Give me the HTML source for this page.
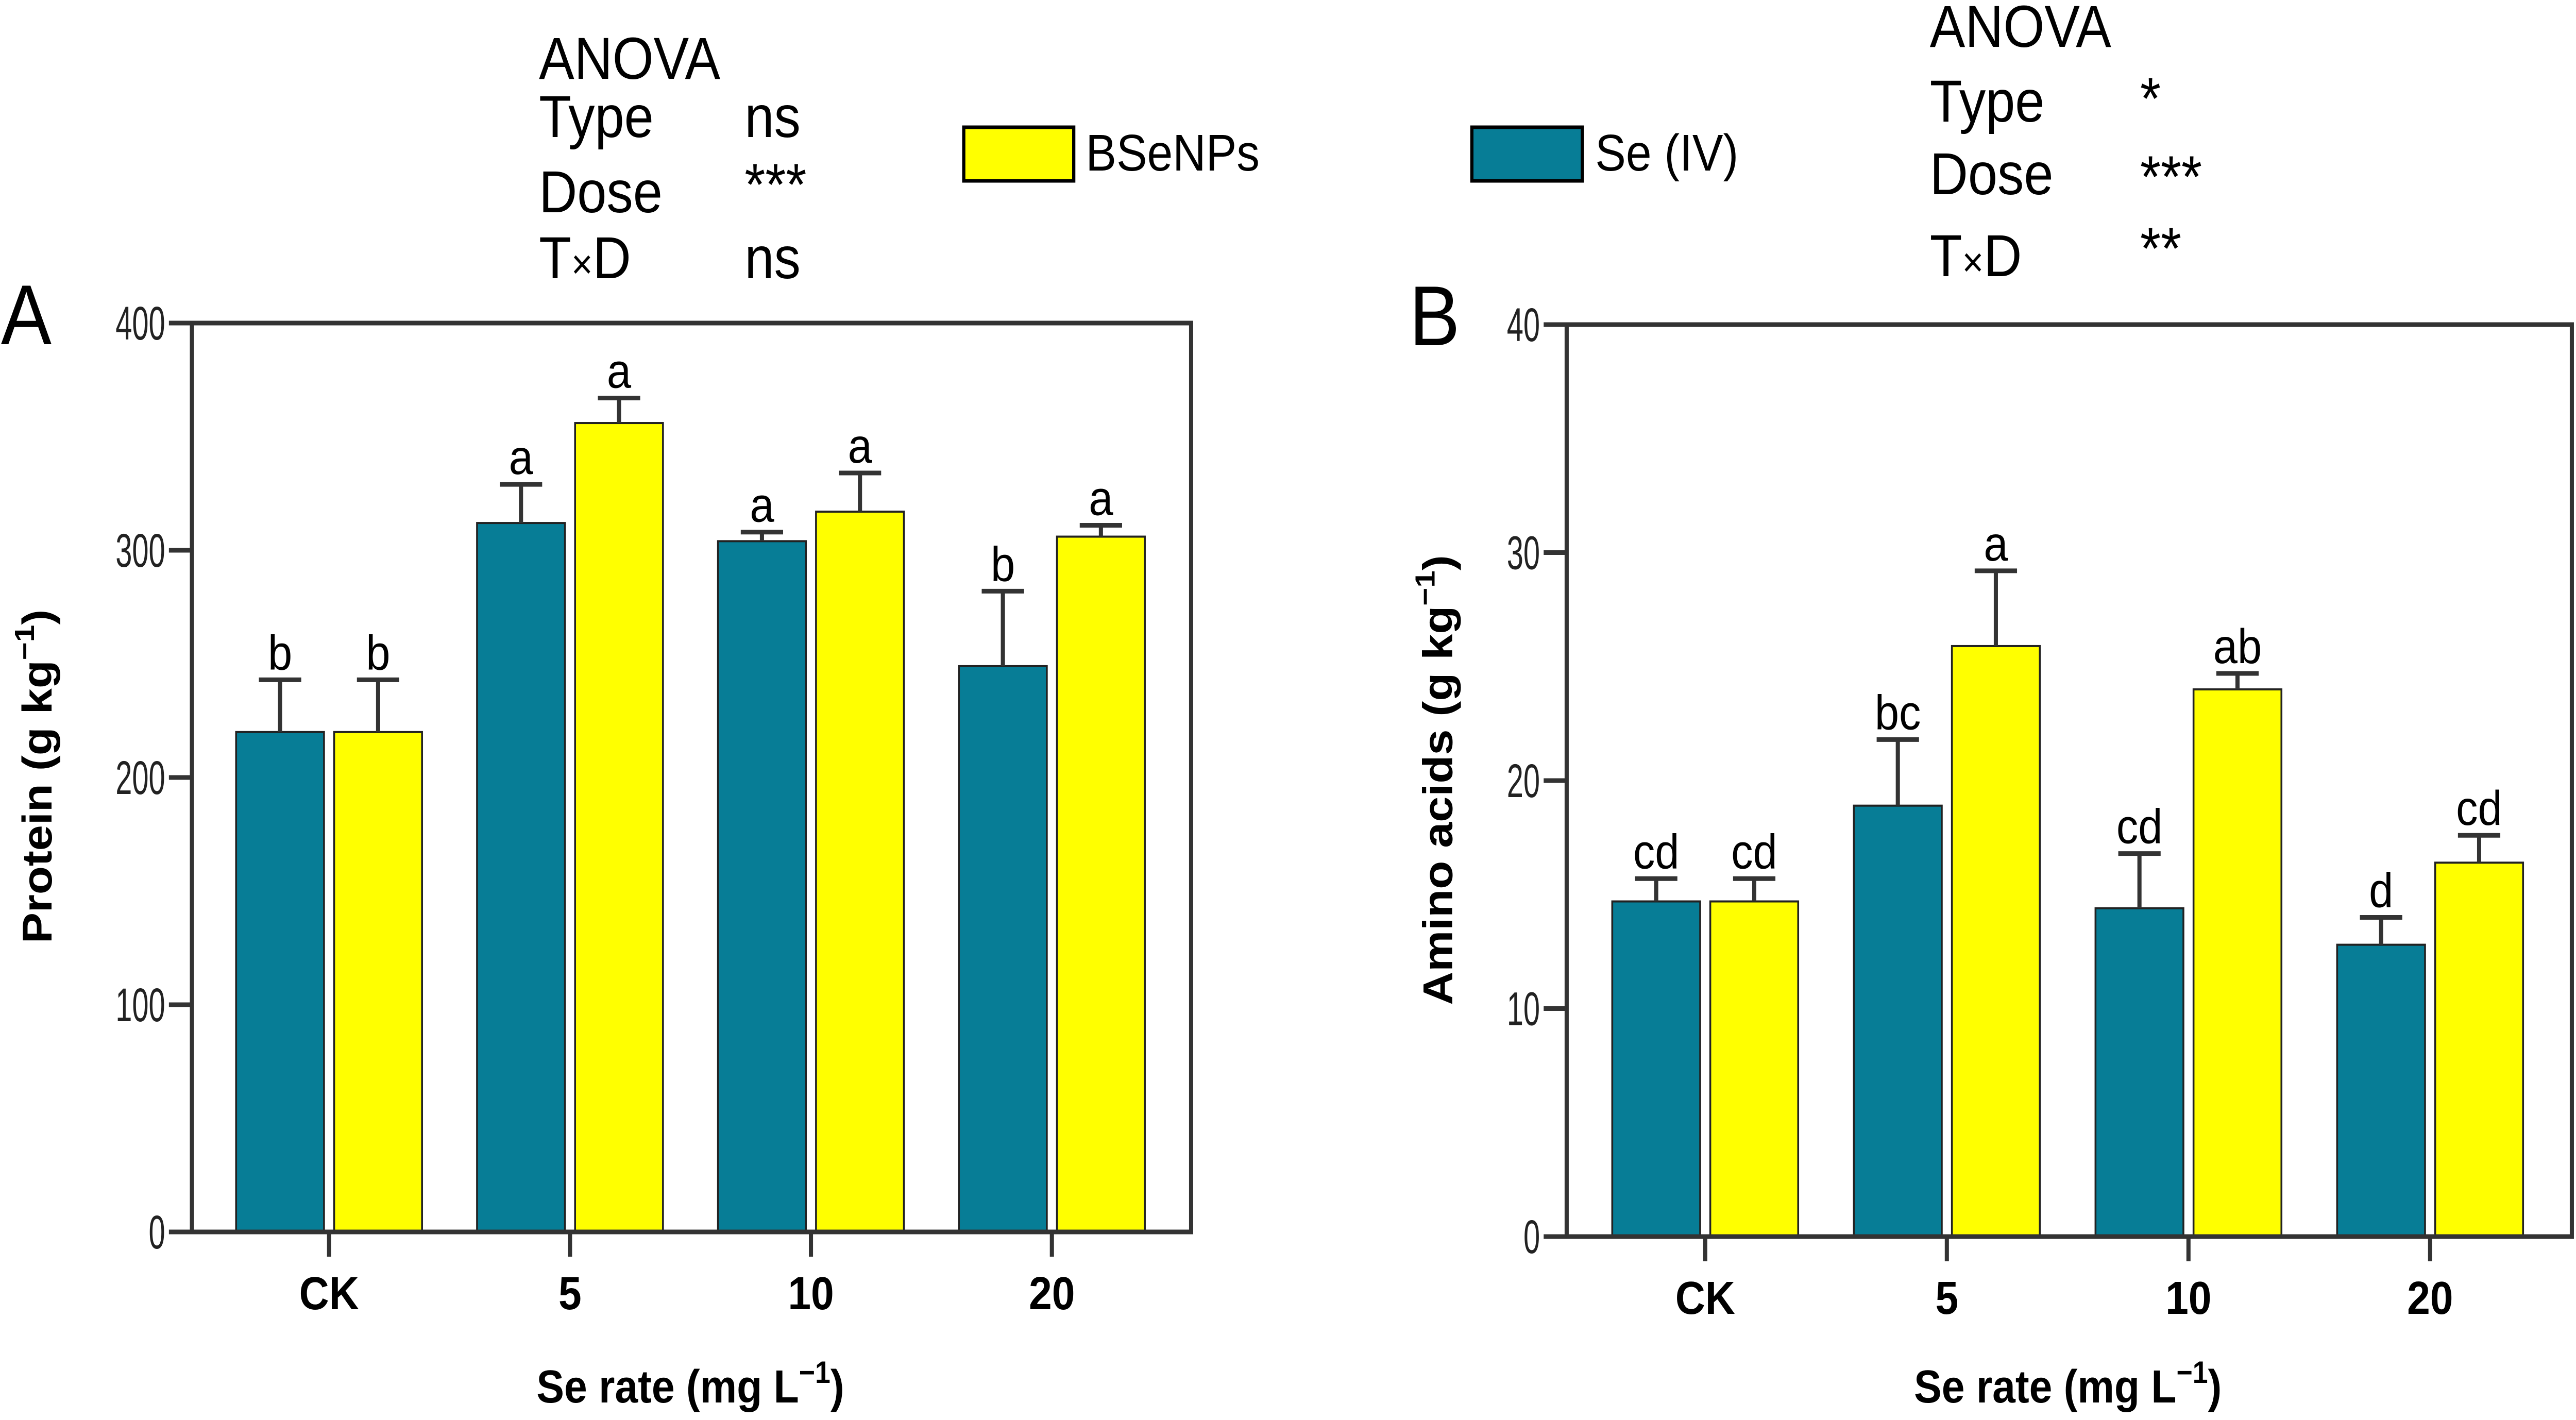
<!DOCTYPE html>
<html><head><meta charset="utf-8"><style>
html,body{margin:0;padding:0;background:#fff;width:100%;height:100%;overflow:hidden;}
svg{display:block;width:100vw;height:100vh;font-family:"Liberation Sans",Arial,sans-serif;}
</style></head><body>
<svg id="chart" viewBox="0 0 5597 2756" preserveAspectRatio="none" xmlns="http://www.w3.org/2000/svg">
<rect width="5597" height="2756" fill="#fff"/>
<g font-size="115" fill="#000">
<text x="1171" y="153">ANOVA</text>
<text x="1171" y="266">Type</text><text x="1618" y="266">ns</text>
<text x="1171" y="412">Dose</text><text x="1618" y="398">***</text>
<text x="1171" y="540">T<tspan font-size="80">×</tspan>D</text><text x="1618" y="540">ns</text>
</g>
<g font-size="115" fill="#000">
<text x="4193" y="91">ANOVA</text>
<text x="4193" y="236">Type</text><text x="4650" y="231">*</text>
<text x="4193" y="377">Dose</text><text x="4650" y="383">***</text>
<text x="4193" y="536">T<tspan font-size="80">×</tspan>D</text><text x="4650" y="522">**</text>
</g>
<g>
<rect x="2094" y="247" width="239" height="104" fill="#ffff00" stroke="#000" stroke-width="7"/>
<text x="2359" y="331" font-size="100">BSeNPs</text>
<rect x="3198" y="247" width="240" height="104" fill="#077d96" stroke="#000" stroke-width="7"/>
<text x="3466" y="331" font-size="100">Se (IV)</text>
</g>
<text x="2" y="668" font-size="165">A</text>
<text x="3062" y="670" font-size="165">B</text>
<g id="pa"></g>
<g id="pb"></g>
</svg>
<script>
const categories = ["CK", "5", "10", "20"];
const proteinSe = [220, 312, 304, 249];
const proteinSeErr = [243, 329, 308, 282];
const proteinNP = [220, 356, 317, 306];
const proteinNPErr = [243, 367, 334, 311];
const proteinSeLetters = ["b", "a", "a", "b"];
const proteinNPLetters = ["b", "a", "a", "a"];
const proteinTicks = [0, 100, 200, 300, 400];
const aminoSe = [14.7, 18.9, 14.4, 12.8];
const aminoSeErr = [15.7, 21.8, 16.8, 14.0];
const aminoNP = [14.7, 25.9, 24.0, 16.4];
const aminoNPErr = [15.7, 29.2, 24.7, 17.6];
const aminoSeLetters = ["cd", "bc", "cd", "d"];
const aminoNPLetters = ["cd", "a", "ab", "cd"];
const aminoTicks = [0, 10, 20, 30, 40];

const NS = "http://www.w3.org/2000/svg";
function mk(parent, tag, attrs, txt) {
  const e = document.createElementNS(NS, tag);
  for (const k in attrs) e.setAttribute(k, attrs[k]);
  if (txt !== undefined) e.textContent = txt;
  parent.appendChild(e);
  return e;
}
function drawPanel(g, cfg) {
  const yScale = v => cfg.bottom - (v - cfg.ticks[0]) / (cfg.ticks[cfg.ticks.length - 1] - cfg.ticks[0]) * (cfg.bottom - cfg.top);
  const xCenter = i => cfg.c0 + cfg.step * i;
  const series = [
    {vals: cfg.se, errs: cfg.seErr, letters: cfg.seL, color: "#077d96", x0: -202, name: "se-iv"},
    {vals: cfg.np, errs: cfg.npErr, letters: cfg.npL, color: "#ffff00", x0: 11, name: "bsenps"}
  ];
  series.forEach(s => {
    s.vals.forEach((v, i) => {
      const c = xCenter(i);
      const bx = c + s.x0, bw = 191;
      const bar = mk(g, "rect", {x: bx, y: yScale(v), width: bw, height: yScale(0) - yScale(v), fill: s.color, stroke: "#222", "stroke-width": 4});
      
      
      const mid = bx + bw / 2;
      const ey = yScale(s.errs[i]);
      const el = mk(g, "path", {d: `M${mid} ${yScale(v)}V${ey}M${mid - 46} ${ey}H${mid + 46}`, stroke: "#333", "stroke-width": 9, fill: "none"});
      
      
      const lt = mk(g, "text", {x: mid, y: ey - 20, "font-size": 95, "text-anchor": "middle"}, s.letters[i]);
      
      
    });
  });
  const box = mk(g, "rect", {x: cfg.left, y: cfg.top, width: cfg.right - cfg.left, height: cfg.bottom - cfg.top, fill: "none", stroke: "#333", "stroke-width": 9});
  
  
  cfg.ticks.forEach(t => {
    const y = yScale(t);
    const tk = mk(g, "line", {x1: cfg.left - 50, x2: cfg.left, y1: y, y2: y, stroke: "#333", "stroke-width": 9});
    
    
    const str = String(t);
    const tl = mk(g, "text", {x: cfg.left - 58, y: y + 32, "font-size": 92, "text-anchor": "end", fill: "#222", textLength: 36 * str.length, lengthAdjust: "spacingAndGlyphs"}, str);
    
    
  });
  categories.forEach((c, i) => {
    const x = xCenter(i);
    const tk = mk(g, "line", {x1: x, x2: x, y1: cfg.bottom, y2: cfg.bottom + 48, stroke: "#333", "stroke-width": 9});
    
    
    const tl = mk(g, "text", {x: x, y: cfg.bottom + 150, "font-size": 90, "font-weight": "bold", "text-anchor": "middle"}, c);
    
    
  });
  const xt = mk(g, "text", {x: cfg.xTitleX, y: 2722, "font-size": 90, "font-weight": "bold", "text-anchor": "middle"});
  
  
  xt.innerHTML = 'Se rate (mg L<tspan font-size="60" dy="-38">−1</tspan><tspan dy="38">)</tspan>';
  const yt = mk(g, "text", {x: 0, y: 0, "font-size": 90, "font-weight": "bold", "text-anchor": "middle", transform: `translate(${cfg.yTitleX},${cfg.yTitleY}) rotate(-90)`});
  
  
  yt.innerHTML = cfg.yTitle + ' (g kg<tspan font-size="60" dy="-38">−1</tspan><tspan dy="38">)</tspan>';
}
drawPanel(document.getElementById("pa"), {left: 417, right: 2588, top: 627, bottom: 2391, c0: 715, step: 523.5, ticks: proteinTicks,
  se: proteinSe, seErr: proteinSeErr, np: proteinNP, npErr: proteinNPErr, seL: proteinSeLetters, npL: proteinNPLetters,
  xTitleX: 1500, yTitleX: 112, yTitleY: 1507, yTitle: "Protein"});
drawPanel(document.getElementById("pb"), {left: 3404, right: 5588, top: 630, bottom: 2400, c0: 3705, step: 525, ticks: aminoTicks,
  se: aminoSe, seErr: aminoSeErr, np: aminoNP, npErr: aminoNPErr, seL: aminoSeLetters, npL: aminoNPLetters,
  xTitleX: 4493, yTitleX: 3155, yTitleY: 1514, yTitle: "Amino acids"});
</script>
</body></html>
